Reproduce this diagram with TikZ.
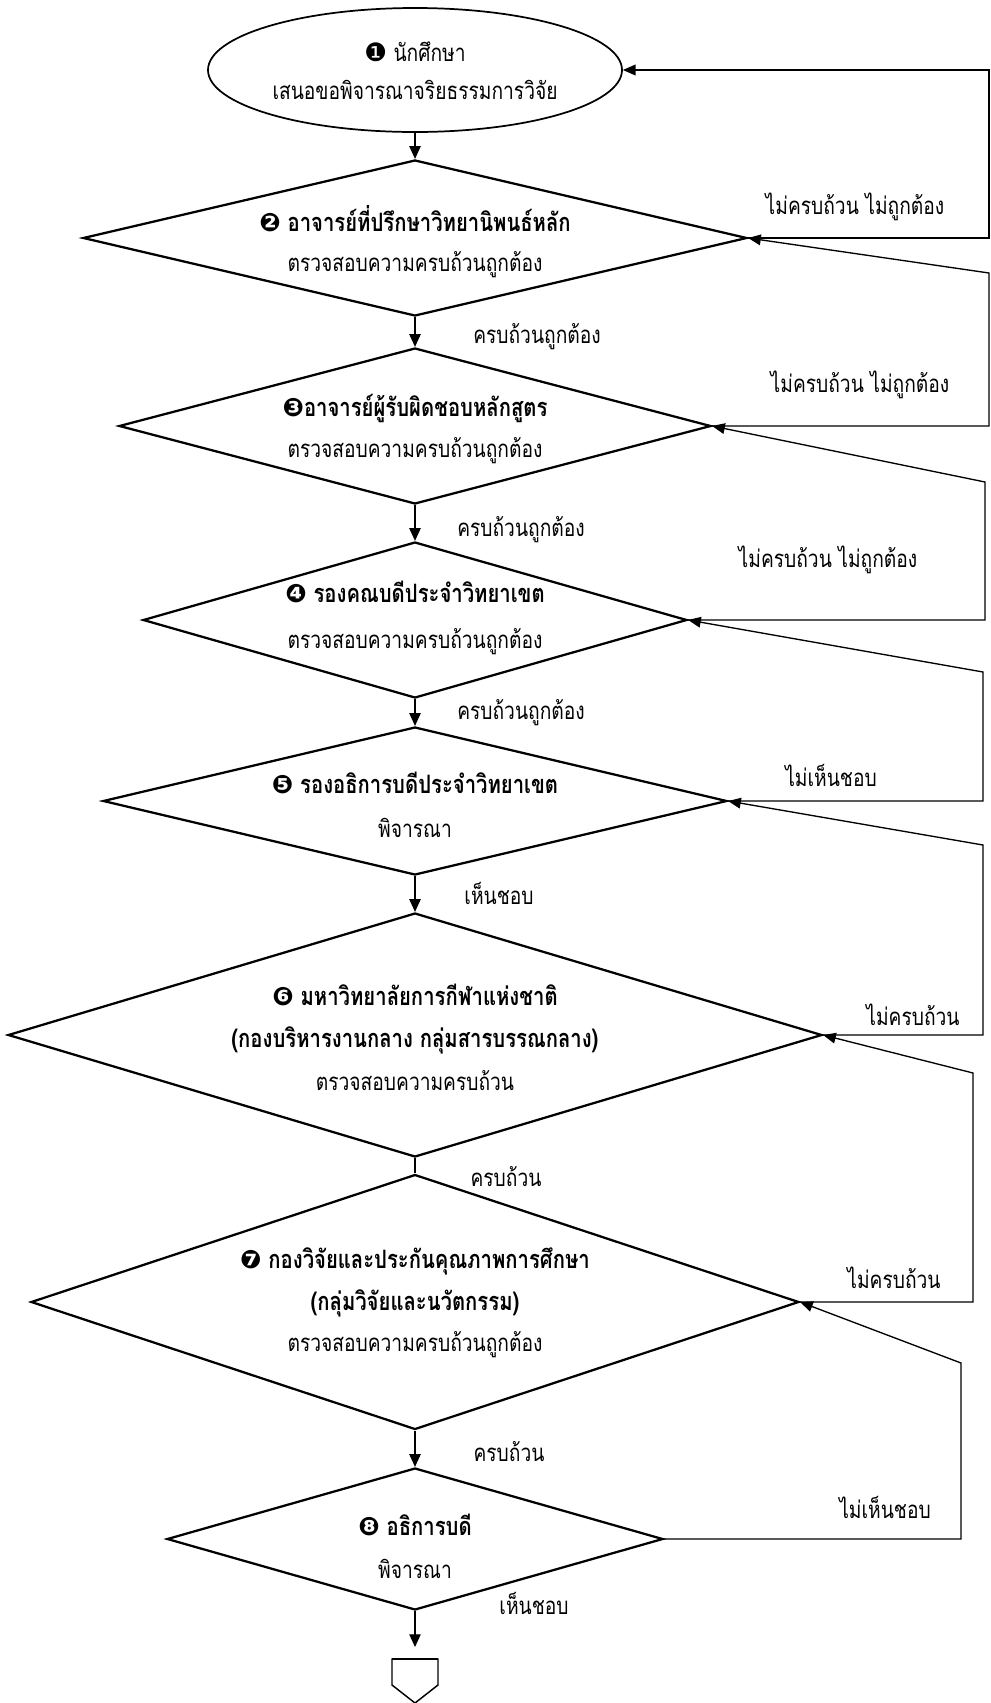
\documentclass[tikz,border=0pt]{standalone}
\usepackage{fontspec}
\setmainfont{DejaVu Sans}
\newfontfamily\thai[Script=Thai,FakeStretch=0.8]{Loma}
\newfontfamily\dv{DejaVu Sans}
\newcommand{\cnum}[1]{{\dv\fontsize{19pt}{\baselineskip}\selectfont #1}}
\newcommand{\tb}[1]{{\bfseries\fontsize{19pt}{\baselineskip}\selectfont #1}}
\usetikzlibrary{shapes.geometric,arrows.meta}
\tikzset{
  dia/.style={shape=diamond, draw, line width=1.7pt, inner sep=0pt},
  ell/.style={shape=ellipse, draw, line width=1.3pt, inner sep=0pt},
  txt/.style={font=\thai\fontsize{18pt}{#1}\selectfont, align=center, inner sep=0pt},
  lbl/.style={font=\thai\fontsize{18pt}{20pt}\selectfont, inner sep=0pt},
  down/.style={line width=0.8pt, -{Triangle[length=9.5pt,width=8.5pt]}},
  plainln/.style={line width=0.8pt},
  back/.style={line width=1pt, -{Triangle[length=9.5pt,width=8pt]}},
}
\begin{document}
\begin{tikzpicture}[x=0.75pt,y=-0.75pt]
\useasboundingbox (0,0) rectangle (991,1703);
% shapes
\node[ell, minimum width=310.5pt, minimum height=93pt] (E1) at (415,70) {};
\node[dia, minimum width=498pt, minimum height=117pt] (D2) at (415,238) {};
\node[dia, minimum width=444pt, minimum height=117pt] (D3) at (415,426) {};
\node[dia, minimum width=408pt, minimum height=117pt] (D4) at (415,620) {};
\node[dia, minimum width=468pt, minimum height=111pt] (D5) at (415,801) {};
\node[dia, minimum width=610.5pt, minimum height=183pt] (D6) at (415,1035) {};
\node[dia, minimum width=576pt, minimum height=191.25pt] (D7) at (415,1302) {};
\node[dia, minimum width=372pt, minimum height=106.5pt] (D8) at (415,1539) {};
% texts
\node[txt=28.5pt] (E1t) at (415,71) {\cnum{❶} นักศึกษา\\เสนอขอพิจารณาจริยธรรมการวิจัย};
\node[txt=30pt] (D2t) at (415,242) {\tb{\cnum{❷} อาจารย์ที่ปรึกษาวิทยานิพนธ์หลัก}\\ตรวจสอบความครบถ้วนถูกต้อง};
\node[txt=31.5pt] (D3t) at (415,429) {\tb{\cnum{❸}อาจารย์ผู้รับผิดชอบหลักสูตร}\\ตรวจสอบความครบถ้วนถูกต้อง};
\node[txt=35pt] (D4t) at (415,618) {\tb{\cnum{❹} รองคณบดีประจำวิทยาเขต}\\ตรวจสอบความครบถ้วนถูกต้อง};
\node[txt=33pt] (D5t) at (415,805) {\tb{\cnum{❺} รองอธิการบดีประจำวิทยาเขต}\\พิจารณา};
\node[txt=32pt] (D6t) at (415,1037) {\tb{\cnum{❻} มหาวิทยาลัยการกีฬาแห่งชาติ}\\\tb{(กองบริหารงานกลาง กลุ่มสารบรรณกลาง)}\\ตรวจสอบความครบถ้วน};
\node[txt=31pt] (D7t) at (415,1303) {\tb{\cnum{❼} กองวิจัยและประกันคุณภาพการศึกษา}\\\tb{(กลุ่มวิจัยและนวัตกรรม)}\\ตรวจสอบความครบถ้วนถูกต้อง};
\node[txt=32pt] (D8t) at (415,1546) {\tb{\cnum{❽} อธิการบดี}\\พิจารณา};
% off-page connector
\coordinate (opcin) at (415,1647);
\coordinate (opc) at (415,1659);
\draw[line width=1.1pt] (opc) -- (392,1659) -- (392,1685) -- (415,1703) -- (438,1685) -- (438,1659) -- cycle;
\draw[line width=2pt] (392,1659) -- (438,1659);
% down connectors
\draw[down] (E1) -- (D2);
\draw[down] (D2) -- (D3);
\draw[down] (D3) -- (D4);
\draw[down] (D4) -- (D5);
\draw[down] (D5) -- (D6);
\draw[plainln] (D6) -- (D7);
\draw[down] (D7) -- (D8);
\draw[down] (D8.south) -- (opcin);
\node[lbl] (y2) at (537,337) {ครบถ้วนถูกต้อง};
\node[lbl] (y3) at (521,530) {ครบถ้วนถูกต้อง};
\node[lbl] (y4) at (521,713) {ครบถ้วนถูกต้อง};
\node[lbl] (y5) at (499,893) {เห็นชอบ};
\node[lbl] (y6) at (506,1177) {ครบถ้วน};
\node[lbl] (y7) at (509,1452) {ครบถ้วน};
\node[lbl] (y8) at (534,1603) {เห็นชอบ};
% return loops
\coordinate (c1a) at (989,238); \coordinate (c1b) at (989,70);
\coordinate (c2a) at (989,426); \coordinate (c2b) at (989,273);
\coordinate (c3a) at (985,620); \coordinate (c3b) at (985,482);
\coordinate (c4a) at (983,801); \coordinate (c4b) at (983,672);
\coordinate (c5a) at (983,1035); \coordinate (c5b) at (983,845);
\coordinate (c6a) at (973,1302); \coordinate (c6b) at (973,1073);
\coordinate (c7a) at (961,1539); \coordinate (c7b) at (961,1363);
\draw[back] (D2.east) -- (c1a) -- (c1b) -- (E1.east);
\draw[back] (D3.east) -- (c2a) -- (c2b) -- (D2.east);
\draw[back] (D4.east) -- (c3a) -- (c3b) -- (D3.east);
\draw[back] (D5.east) -- (c4a) -- (c4b) -- (D4.east);
\draw[back] (D6.east) -- (c5a) -- (c5b) -- (D5.east);
\draw[back] (D7.east) -- (c6a) -- (c6b) -- (D6.east);
\draw[back] (D8.east) -- (c7a) -- (c7b) -- (D7.east);
\node[lbl] (n1) at (855,207) {ไม่ครบถ้วน ไม่ถูกต้อง};
\node[lbl] (n2) at (860,385) {ไม่ครบถ้วน ไม่ถูกต้อง};
\node[lbl] (n3) at (828,560) {ไม่ครบถ้วน ไม่ถูกต้อง};
\node[lbl] (n4) at (831,775) {ไม่เห็นชอบ};
\node[lbl] (n5) at (913,1015) {ไม่ครบถ้วน};
\node[lbl] (n6) at (894,1278) {ไม่ครบถ้วน};
\node[lbl] (n7) at (885,1507) {ไม่เห็นชอบ};
\end{tikzpicture}
\end{document}
